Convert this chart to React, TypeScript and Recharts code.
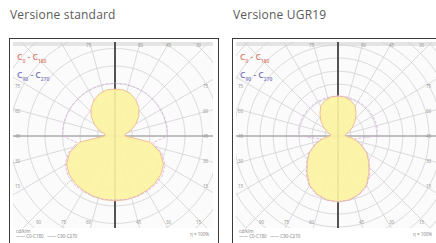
import React from 'react';
import { RadarChart, Radar, PolarGrid, PolarAngleAxis, PolarRadiusAxis } from 'recharts';

// gamma angles (0 = nadir, 180 = zenith), cd/klm
const GAMMA = [0, 10, 20, 30, 40, 50, 60, 70, 80, 90, 100, 110, 120, 130, 140, 150, 160, 170, 180];
const STD_C0 = [185, 185, 183, 180, 177, 171, 160, 137, 103, 29, 29, 49, 69, 89, 106, 119, 129, 134, 134];
const STD_C90 = [183, 184, 184, 183, 181, 176, 165, 142, 110, 150, 151, 151, 151, 151, 151, 151, 151, 151, 151];
const UGR_C0 = [254, 250, 238, 219, 185, 154, 127, 92, 62, 30, 28, 42, 62, 85, 108, 133, 145, 152, 154];
const UGR_C90 = [252, 250, 240, 222, 190, 158, 130, 95, 66, 150, 154, 154, 154, 154, 154, 154, 154, 154, 154];

const TITLES = ['Versione standard', 'Versione UGR19'];
const EDGE_LABELS = ['90', '75', '60', '45', '30', '15', '0'];

function buildData(c0: number[], c90: number[]) {
  const out: { angle: number; c0: number; c90: number }[] = [];
  for (let a = 0; a < 360; a += 10) {
    const g = a <= 180 ? a : 360 - a;
    const idx = GAMMA.indexOf(g);
    out.push({ angle: a, c0: c0[idx], c90: c90[idx] });
  }
  return out;
}

const ANGLES = Array.from({ length: 24 }, (_, i) => i * 15);

type PanelProps = {
  left: number;
  title: string;
  c0: number[];
  c90: number[];
  ringPx: number;
  maxVal: number;
};

function Panel({ left, title, c0, c90, ringPx, maxVal }: PanelProps) {
  const data = buildData(c0, c90);
  const W = 200;
  const H = 186;
  const cx = 102;
  const cy = 94;
  const outer = (maxVal / 50) * ringPx;
  const rings = Array.from({ length: Math.round(maxVal / 50) }, (_, i) => (i + 1) * ringPx);
  const tiny: React.CSSProperties = { position: 'absolute', fontSize: 4.5, color: '#999', lineHeight: '5px', fontFamily: 'Noto Sans' };
  return (
    <>
      <div style={{ position: 'absolute', left: left + 1, top: 6, fontFamily: '"Open Sans", sans-serif', fontSize: 12, color: '#5a5a5a', letterSpacing: 0.2 }}>
        {title}
      </div>
      <div style={{ position: 'absolute', left, top: 38, width: left < 100 ? 208 : 210, height: 215, borderLeft: '1.5px solid #3a3a3a', borderTop: '1.5px solid #3a3a3a', borderRight: left < 100 ? '1.5px solid #3a3a3a' : 'none', background: '#fff', overflow: 'hidden' }}>
        <div style={{ position: 'absolute', left: 3, top: 3, width: W, height: H, background: '#fbfbfb', overflow: 'hidden' }}>
          <div style={{ position: 'absolute', left: 0, top: 0, width: W, height: 4, background: '#e4e4e4' }} />
          <RadarChart width={W} height={H} data={data} cx={cx} cy={cy} outerRadius={outer} startAngle={-90} endAngle={270} margin={{ top: 0, right: 0, bottom: 0, left: 0 }}>
            <PolarGrid gridType="circle" polarRadius={rings} polarAngles={ANGLES} stroke="#d2d2d2" strokeWidth={0.8} />
            <PolarGrid gridType="circle" polarRadius={[]} polarAngles={[0, 180]} stroke="#8a8a8a" strokeWidth={0.9} />
            <PolarGrid gridType="circle" polarRadius={[]} polarAngles={[90, 270]} stroke="#2e2e2e" strokeWidth={1.6} />
            <PolarAngleAxis dataKey="angle" type="number" domain={[0, 360]} tick={false} axisLine={false} tickLine={false} />
            <PolarRadiusAxis domain={[0, maxVal]} tick={false} axisLine={false} tickLine={false} />
            <Radar dataKey="c0" fill="#fbf3a2" fillOpacity={0.92} stroke="#f0b890" strokeWidth={0.9} isAnimationActive={false} dot={false} />
            <Radar dataKey="c90" fill="none" fillOpacity={0} stroke="#d4aedb" strokeWidth={0.8} strokeDasharray="3 1.5" isAnimationActive={false} dot={false} />
          </RadarChart>
          <div style={{ position: 'absolute', left: 4, top: 8, fontFamily: '"Noto Sans", sans-serif', fontSize: 8.5, lineHeight: '13px', fontWeight: 600 }}>
            <div style={{ color: '#e0877a' }}>C<sub style={{ fontSize: 5 }}>0</sub> - C<sub style={{ fontSize: 5 }}>180</sub></div>
            <div style={{ color: '#7f7fbf' }}>C<sub style={{ fontSize: 5 }}>90</sub> - C<sub style={{ fontSize: 5 }}>270</sub></div>
          </div>
          {EDGE_LABELS.slice(1, 6).map((t, i) => (
            <span key={'l' + i} style={{ ...tiny, left: 2, top: 42 + i * 25 }}>{t}</span>
          ))}
          {EDGE_LABELS.slice(1, 6).map((t, i) => (
            <span key={'r' + i} style={{ ...tiny, left: W - 10, top: 42 + i * 25 }}>{t}</span>
          ))}
          {[-75, -50, -25, 25, 55, 85].map((d, i) => (
            <span key={'b' + i} style={{ ...tiny, left: cx + d - 4, top: H - 8 }}>{EDGE_LABELS[i]}</span>
          ))}
          {[-25, 27, 55, 85].map((d, i) => (
            <span key={'t' + i} style={{ ...tiny, left: cx + d - 4, top: 1 }}>{EDGE_LABELS[i + 1]}</span>
          ))}
        </div>
        <div style={{ position: 'absolute', left: 6, top: 190, fontFamily: '"Noto Sans", sans-serif', fontSize: 4.5, color: '#888', lineHeight: '5px' }}>
          <div>cd/klm</div>
          <div>—— C0-C180 &nbsp; —— C90-C270</div>
        </div>
        <div style={{ position: 'absolute', left: 180, top: 192, fontFamily: '"Noto Sans", sans-serif', fontSize: 4.5, color: '#888' }}>η = 100%</div>
      </div>
    </>
  );
}

export default function App() {
  return (
    <div style={{ position: 'absolute', left: 0, top: 0, width: 436, height: 243, background: '#fff', overflow: 'hidden' }}>
      <Panel left={9} title={TITLES[0]} c0={STD_C0} c90={STD_C90} ringPx={17.5} maxVal={450} />
      <Panel left={232} title={TITLES[1]} c0={UGR_C0} c90={UGR_C90} ringPx={13} maxVal={600} />
    </div>
  );
}
